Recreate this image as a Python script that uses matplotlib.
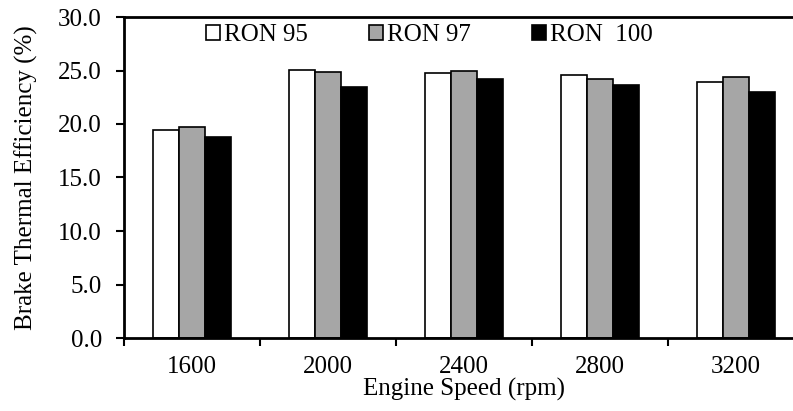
import matplotlib
matplotlib.use("Agg")
import matplotlib.pyplot as plt
import numpy as np

categories = ["1600", "2000", "2400", "2800", "3200"]
series_names = ["RON 95", "RON 97", "RON  100"]
ron95 = [19.45, 25.05, 24.75, 24.55, 23.97]
ron97 = [19.7, 24.9, 24.97, 24.25, 24.38]
ron100 = [18.8, 23.5, 24.2, 23.65, 23.0]
yticks = [0, 5, 10, 15, 20, 25, 30]

plt.rcParams['font.family'] = ['Liberation Serif', 'DejaVu Serif']

fig = plt.figure(figsize=(7.93, 4.11), dpi=100)
ax = fig.add_axes([124/793, 1-338/411, 680/793, (338-17)/411])

x = np.arange(len(categories))
w = 0.193
colors = ["white", "#A6A6A6", "black"]
for i, (vals, name, c) in enumerate(zip([ron95, ron97, ron100], series_names, colors)):
    ax.bar(x + (i-1)*w, vals, width=w, color=c, edgecolor="black", linewidth=1.2, label=name)

ax.set_xlim(-0.5, len(categories)-0.5)
ax.set_ylim(0, 30)
ax.set_yticks(yticks)
ax.set_yticklabels([f"{v:.1f}" for v in yticks])
ax.set_xticks(np.arange(len(categories)+1) - 0.5)
ax.set_xticklabels([])
ax.set_xticks(x, minor=True)
ax.set_xticklabels(categories, minor=True)
ax.tick_params(axis='x', which='minor', length=0, pad=13, labelsize=18)
ax.tick_params(axis='x', which='major', length=6, width=1.5, direction='out')
ax.tick_params(axis='y', length=6, width=1.5, direction='out', labelsize=18, pad=10)
for s in ax.spines.values():
    s.set_linewidth(2.0)
ax.spines['right'].set_visible(False)

ax.set_xlabel("Engine Speed (rpm)", fontsize=18, labelpad=0)
ax.set_ylabel("Brake Thermal Efficiency (%)", fontsize=18)
ax.yaxis.set_label_coords(-0.127, 0.5)

leg = ax.legend(ncol=3, frameon=False, loc='center', bbox_to_anchor=(0.449, 0.944),
                fontsize=18, handlelength=0.56, handleheight=0.56, handletextpad=0.16,
                columnspacing=2.45, borderaxespad=0)

fig.savefig("out.png", dpi=100)
